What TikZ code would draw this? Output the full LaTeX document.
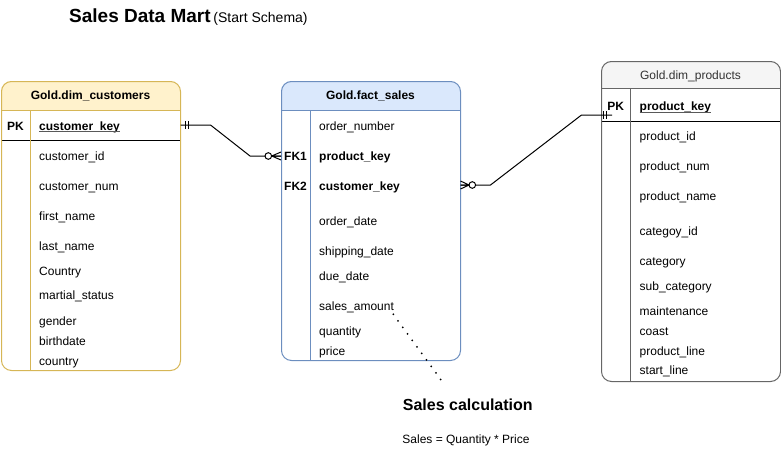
\documentclass[tikz,border=0pt]{standalone}
\usepackage{fontspec}
\setmainfont{Liberation Sans}
\usetikzlibrary{calc}
\definecolor{custFill}{HTML}{FFF2CC}
\definecolor{custLine}{HTML}{D6B656}
\definecolor{factFill}{HTML}{DAE8FC}
\definecolor{factLine}{HTML}{6C8EBF}
\definecolor{prodFill}{HTML}{F5F5F5}
\definecolor{prodLine}{HTML}{666666}
\definecolor{prodText}{HTML}{333333}
\begin{document}
\begin{tikzpicture}[x=1pt,y=-1pt,
  tbl/.style={draw, rounded corners=10pt, line width=1pt, inner sep=0pt, anchor=north west},
  fld/.style={anchor=base west, inner sep=0pt, font=\fontsize{12}{14}\selectfont},
  keyf/.style={anchor=base west, inner sep=0pt, font=\fontsize{12}{14}\selectfont\bfseries},
  tag/.style={anchor=base, inner sep=0pt, font=\fontsize{12}{14}\selectfont\bfseries},
  hdr/.style={anchor=base, inner sep=0pt, font=\fontsize{12}{14}\selectfont\bfseries},
  conn/.style={line width=1pt, black},
  ulin/.style={line width=0.8pt, black!65},
  sep/.style={line width=1pt}
]
\useasboundingbox (0,0) rectangle (781,463);

% ---------- title ----------
\node[anchor=base west, inner sep=0pt] (title) at (69,23)
  {{\fontsize{19}{22}\selectfont\bfseries Sales Data Mart} {\fontsize{14}{16}\selectfont(Start Schema)}};

% ---------- dim_customers ----------
\begin{scope}
  \clip[rounded corners=10pt] (1,81) rectangle (180,370);
  \fill[custFill] (1,81) rectangle (180,110);
\end{scope}
\draw[sep, custLine] (1,110) -- (180,110);
\draw[sep] (1,140.5) -- (180,140.5);
\draw[sep, custLine] (30.5,110) -- (30.5,370);
\node[tbl, draw=custLine, minimum width=179pt, minimum height=289pt] (cust) at (1,81) {};
\node[hdr] (custh) at (90.5,99.5) {Gold.dim\_customers};
\node[tag] (custpk) at (15.5,130) {PK};
\node[keyf] (custk) at (39,130) {customer\_key};
\draw[ulin] ([yshift=-1.6pt]custk.base west) -- ([yshift=-1.6pt]custk.base east);
\foreach \t/\y [count=\i] in {customer\_id/160.5, customer\_num/190, first\_name/220.5,
    last\_name/250.5, Country/275.3, martial\_status/299.5, gender/325.5,
    birthdate/345.5, country/365.5}
  \node[fld] (custf\i) at (39,\y) {\t};

% ---------- fact_sales ----------
\begin{scope}
  \clip[rounded corners=10pt] (281,81) rectangle (460,360);
  \fill[factFill] (281,81) rectangle (460,110);
\end{scope}
\draw[sep, factLine] (281,110) -- (460,110);
\draw[sep, factLine] (310.5,110) -- (310.5,360);
\node[tbl, draw=factLine, minimum width=179pt, minimum height=279pt] (fact) at (281,81) {};
\node[hdr] (facth) at (370.5,99.5) {Gold.fact\_sales};
\node[fld] (fact1) at (319,130.5) {order\_number};
\node[tag] (fk1) at (295.5,160.5) {FK1};
\node[keyf] (fact2) at (319,160.5) {product\_key};
\node[tag] (fk2) at (295.5,190.5) {FK2};
\node[keyf] (fact3) at (319,190.5) {customer\_key};
\foreach \t/\y [count=\i from 4] in {order\_date/225.5, shipping\_date/255,
    due\_date/280.5, sales\_amount/310, quantity/335.5, price/355.5}
  \node[fld] (fact\i) at (319,\y) {\t};

% ---------- dim_products ----------
\begin{scope}
  \clip[rounded corners=10pt] (601,61) rectangle (780,381);
  \fill[prodFill] (601,61) rectangle (780,88.5);
\end{scope}
\draw[sep, prodLine] (601,88.5) -- (780,88.5);
\draw[sep] (601,121) -- (780,121);
\draw[sep, prodLine] (630.5,88.5) -- (630.5,381);
\node[tbl, draw=prodLine, minimum width=179pt, minimum height=320pt] (prod) at (601,61) {};
\node[anchor=base, inner sep=0pt, text=prodText, font=\fontsize{12}{14}\selectfont] (prodh) at (690.5,79.5) {Gold.dim\_products};
\node[tag] (prodpk) at (615.8,110.5) {PK};
\node[keyf] (prodk) at (639.5,110.5) {product\_key};
\draw[ulin] ([yshift=-1.6pt]prodk.base west) -- ([yshift=-1.6pt]prodk.base east);
\foreach \t/\y [count=\i] in {product\_id/140.5, product\_num/170.5, product\_name/200.5,
    categoy\_id/235.5, category/265.5, sub\_category/290, maintenance/315.5,
    coast/335.5, product\_line/355.5, start\_line/374.5}
  \node[fld] (prodf\i) at (639.5,\y) {\t};

% ---------- connector customers -> fact ----------
\coordinate (c1a) at (180.5,125);
\coordinate (c1b) at (281,156);
\draw[conn] (c1a) -- ++(30,0) -- ($(c1b)+(-31,0)$) -- (c1b);
\draw[conn] ($(c1a)+(4.5,-4)$) -- ++(0,8);
\draw[conn] ($(c1a)+(8,-4)$) -- ++(0,8);
\draw[conn, fill=white] ($(c1b)+(-12.7,0)$) circle (3.3);
\draw[conn] ($(c1b)+(-9.3,0)$) -- ($(c1b)+(0,-4)$)
            ($(c1b)+(-9.3,0)$) -- (c1b)
            ($(c1b)+(-9.3,0)$) -- ($(c1b)+(0,4)$);

% ---------- connector fact -> products ----------
\coordinate (c2a) at (460.5,185);
\coordinate (c2b) at (612,115);
\draw[conn] (c2a) -- ++(30,0) -- (581.5,115) -- (c2b);
\draw[conn, fill=white] ($(c2a)+(11.8,0)$) circle (3.3);
\draw[conn] ($(c2a)+(8.5,0)$) -- ($(c2a)+(0,-4)$)
            ($(c2a)+(8.5,0)$) -- (c2a)
            ($(c2a)+(8.5,0)$) -- ($(c2a)+(0,4)$);
\draw[conn] (603.3,111) -- (603.3,119);
\draw[conn] (606.7,111) -- (606.7,119);

% ---------- annotation ----------
\coordinate (dotA) at (393.3,314.3);
\coordinate (dotB) at (440.7,379.5);
\draw[line width=2pt, line cap=round, dash pattern=on 0pt off 8.05pt] (dotA) -- (dotB);
\node[anchor=base, inner sep=0pt, font=\fontsize{16}{18}\selectfont\bfseries] (calc) at (467.8,410) {Sales calculation};
\node[anchor=base, inner sep=0pt, font=\fontsize{12}{14}\selectfont] (formula) at (466,443) {Sales = Quantity * Price};
\end{tikzpicture}
\end{document}
